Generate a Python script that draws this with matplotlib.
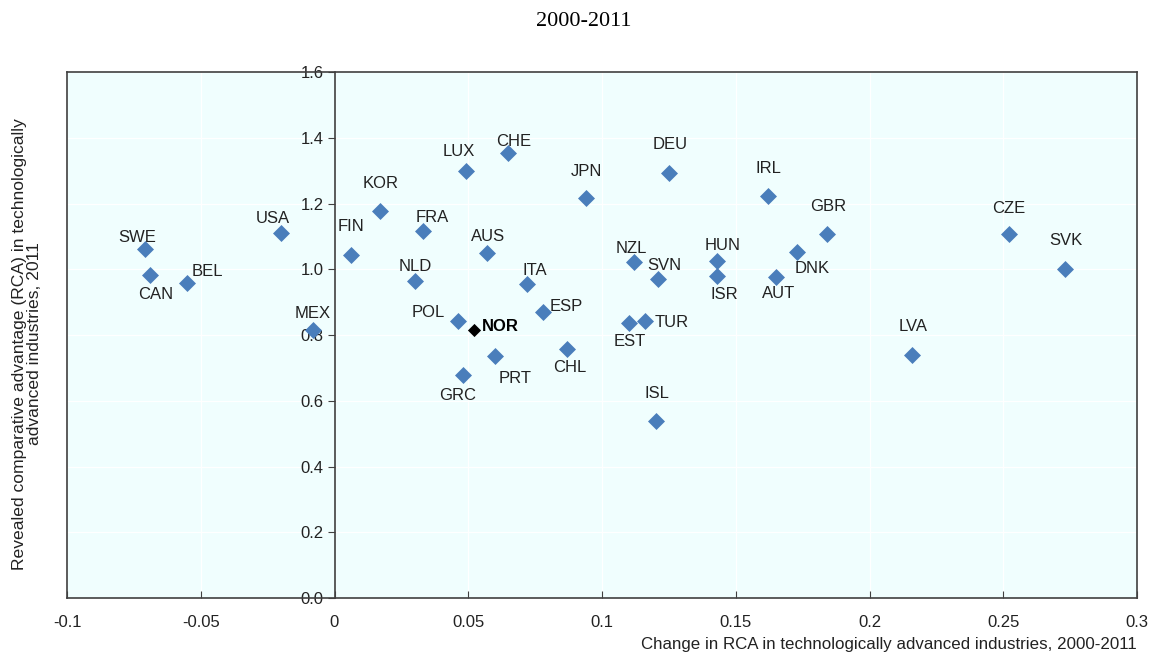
import matplotlib
matplotlib.use("Agg")
import matplotlib.pyplot as plt

# Veriler
countries = ["SWE", "CAN", "BEL", "USA", "MEX", "FIN", "KOR", "NLD", "FRA", "LUX",
             "CHE", "AUS", "POL", "NOR", "GRC", "PRT", "ITA", "ESP", "CHL", "JPN",
             "DEU", "NZL", "SVN", "EST", "TUR", "ISL", "HUN", "ISR", "IRL", "AUT",
             "DNK", "GBR", "LVA", "CZE", "SVK"]
rca_change = [-0.071, -0.069, -0.055, -0.020, -0.008, 0.006, 0.017, 0.030, 0.033, 0.049,
              0.065, 0.057, 0.046, 0.052, 0.048, 0.060, 0.072, 0.078, 0.087, 0.094,
              0.125, 0.112, 0.121, 0.110, 0.116, 0.120, 0.143, 0.143, 0.162, 0.165,
              0.173, 0.184, 0.216, 0.252, 0.273]
rca_2011 = [1.062, 0.983, 0.958, 1.110, 0.815, 1.043, 1.177, 0.964, 1.116, 1.299,
            1.354, 1.049, 0.843, 0.815, 0.678, 0.736, 0.955, 0.870, 0.757, 1.217,
            1.293, 1.022, 0.970, 0.836, 0.843, 0.538, 1.025, 0.979, 1.223, 0.976,
            1.052, 1.107, 0.739, 1.107, 1.001]
highlight = "NOR"

x_ticks = [-0.1, -0.05, 0, 0.05, 0.1, 0.15, 0.2, 0.25, 0.3]
x_ticklabels = ["-0.1", "-0.05", "0", "0.05", "0.1", "0.15", "0.2", "0.25", "0.3"]
y_ticks = [0.0, 0.2, 0.4, 0.6, 0.8, 1.0, 1.2, 1.4, 1.6]

# Etiket kaydırmaları (piksel)
offsets = {
    "SWE": (-7, 11), "CAN": (6, -20), "BEL": (20, 12), "USA": (-8, 15), "MEX": (0, 17),
    "FIN": (0, 29), "KOR": (1, 28), "NLD": (0, 15), "FRA": (9, 14), "LUX": (-7, 19),
    "CHE": (5, 11), "AUS": (1, 17), "POL": (-29, 8), "NOR": (27, 4), "GRC": (-5, -20),
    "PRT": (20, -22), "ITA": (8, 14), "ESP": (23, 5), "CHL": (3, -18), "JPN": (1, 26),
    "DEU": (1, 28), "NZL": (-3, 14), "SVN": (6, 14), "EST": (1, -18), "TUR": (27, -2),
    "ISL": (1, 28), "HUN": (6, 16), "ISR": (7, -18), "IRL": (1, 27), "AUT": (3, -16),
    "DNK": (15, -16), "GBR": (1, 28), "LVA": (1, 29), "CZE": (0, 26), "SVK": (1, 28),
}

plt.rcParams["font.family"] = ["Liberation Sans", "DejaVu Sans"]

fig = plt.figure(figsize=(11.68, 6.55), dpi=100)
ax = fig.add_axes([67 / 1168, 1 - 598 / 655, 1070 / 1168, 526 / 655])
ax.set_facecolor("#F0FEFE")

bx = [x for c, x in zip(countries, rca_change) if c != highlight]
by = [y for c, y in zip(countries, rca_2011) if c != highlight]
ax.scatter(bx, by, marker="D", s=75, color="#4A7EBB", zorder=3, linewidths=0)
hi = countries.index(highlight)
ax.scatter([rca_change[hi]], [rca_2011[hi]], marker="D", s=45, color="black",
           zorder=4, linewidths=0)

for c, x, y in zip(countries, rca_change, rca_2011):
    dx, dy = offsets[c]
    ax.annotate(c, (x, y), xytext=(dx, dy), textcoords="offset pixels",
                ha="center", va="center", fontsize=12,
                color="black" if c == highlight else "#222222",
                fontweight="bold" if c == highlight else "normal")

ax.set_xlim(-0.1, 0.3)
ax.set_ylim(0, 1.6)
ax.grid(True, color="white", lw=0.9)
ax.set_axisbelow(True)

# Y ekseni x=0 konumunda
ax.spines["left"].set_position(("data", 0))
for s in ax.spines.values():
    s.set_color("#404040")
    s.set_linewidth(1.2)
ax.plot([0, 0], [0, 1], transform=ax.transAxes, color="#404040", lw=1.2,
        clip_on=False, zorder=5)

ax.set_xticks(x_ticks)
ax.set_xticklabels(x_ticklabels)
ax.set_yticks(y_ticks)
ax.set_yticklabels([f"{v:.1f}" for v in y_ticks])
ax.tick_params(axis="x", direction="in", length=5, pad=12, labelsize=12,
               colors="#404040", labelcolor="#222222")
ax.tick_params(axis="y", direction="out", length=5, pad=3, labelsize=12,
               colors="#404040", labelcolor="#222222")

fig.text(1137 / 1168, 1 - 644 / 655,
         "Change in RCA in technologically advanced industries, 2000-2011",
         ha="right", va="center", fontsize=12.2, color="#222222")
fig.text(27 / 1168, 1 - 344 / 655,
         "Revealed comparative advantage (RCA) in technologically\nadvanced industries, 2011",
         ha="center", va="center", rotation=90, fontsize=12.6, color="#222222",
         linespacing=1.0)
fig.text(0.5, 1 - 22 / 655, "2000-2011", ha="center", va="center",
         fontsize=16, family=["Liberation Serif", "DejaVu Serif"])

fig.savefig("out.png", dpi=100)
